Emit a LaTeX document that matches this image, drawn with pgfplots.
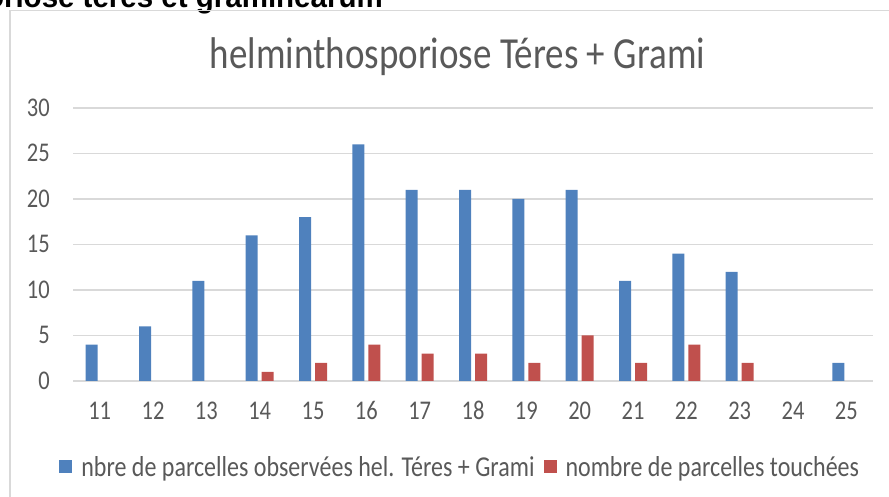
\documentclass[border=0pt]{standalone}
\usepackage{pgfplots}
\pgfplotsset{compat=1.18}
\usepackage{fontspec}
\setmainfont{Carlito}
\newfontfamily\arialfont{Liberation Sans}
\definecolor{cblue}{HTML}{4F81BD}
\definecolor{cred}{HTML}{C0504D}
\definecolor{cgrid}{HTML}{D9D9D9}
\definecolor{ctext}{HTML}{595959}
\begin{document}
\begin{tikzpicture}[x=1pt,y=1pt]
\useasboundingbox (0,0) rectangle (889,497);
\clip (0,0) rectangle (889,497);
\node[anchor=base east,font=\arialfont\bfseries\fontsize{29.5}{34}\selectfont,inner sep=0pt] at (383,489.5) {\scalebox{1}[1.05]{Helminthosporiose teres et graminearum}};
\draw[cgrid,line width=1.4pt] (10,-5) -- (10,486.5) -- (895,486.5);
\node[font=\fontsize{37}{44}\selectfont,text=ctext,inner sep=0pt] at (457.5,440) {\scalebox{1}[1.2]{helminthosporiose Téres + Grami}};
\begin{axis}[
  at={(73pt,116pt)}, anchor=south west,
  scale only axis, width=800pt, height=273pt,
  xmin=10.5, xmax=25.5, ymin=0, ymax=30,
  axis lines=none,
  ybar=4pt, bar width=12pt,
  xtick={11,...,25}, ytick={0,5,...,30},
  ymajorgrids, grid style={cgrid,line width=1.1pt},
  major tick length=0pt,
  /pgf/number format/assume math mode=true,
  tick label style={font=\fontsize{22.5}{26}\selectfont,text=ctext,inner sep=0pt},
  xticklabel={\scalebox{1}[1.2]{\pgfmathprintnumber{\tick}}},
  yticklabel={\scalebox{1}[1.2]{\pgfmathprintnumber{\tick}}},
  xticklabel style={anchor=base,yshift=-39pt},
  yticklabel style={anchor=base east,xshift=-23pt,yshift=-8.5pt},
  hide x axis=false, hide y axis=false,
  axis line style={draw=none},
  legend style={at={(0.484,-0.315)},anchor=center,draw=none,font=\fontsize{24}{28}\selectfont,text=ctext,legend columns=2,inner sep=0pt,
    /tikz/every even column/.append style={column sep=7pt}},
  legend image code/.code={\fill[#1] (0pt,-6.5pt) rectangle (13pt,7pt); \path (20pt,0pt);},
]
\addplot[fill=cblue,draw=none] coordinates {(11,4) (12,6) (13,11) (14,16) (15,18) (16,26) (17,21) (18,21) (19,20) (20,21) (21,11) (22,14) (23,12) (25,2)};
\addplot[fill=cred,draw=none] coordinates {(14,1) (15,2) (16,4) (17,3) (18,3) (19,2) (20,5) (21,2) (22,4) (23,2)};
\legend{\scalebox{1}[1.2]{nbre de parcelles observées hel. Téres + Grami},\scalebox{1}[1.2]{nombre de parcelles touchées}}
\end{axis}
\end{tikzpicture}
\end{document}
